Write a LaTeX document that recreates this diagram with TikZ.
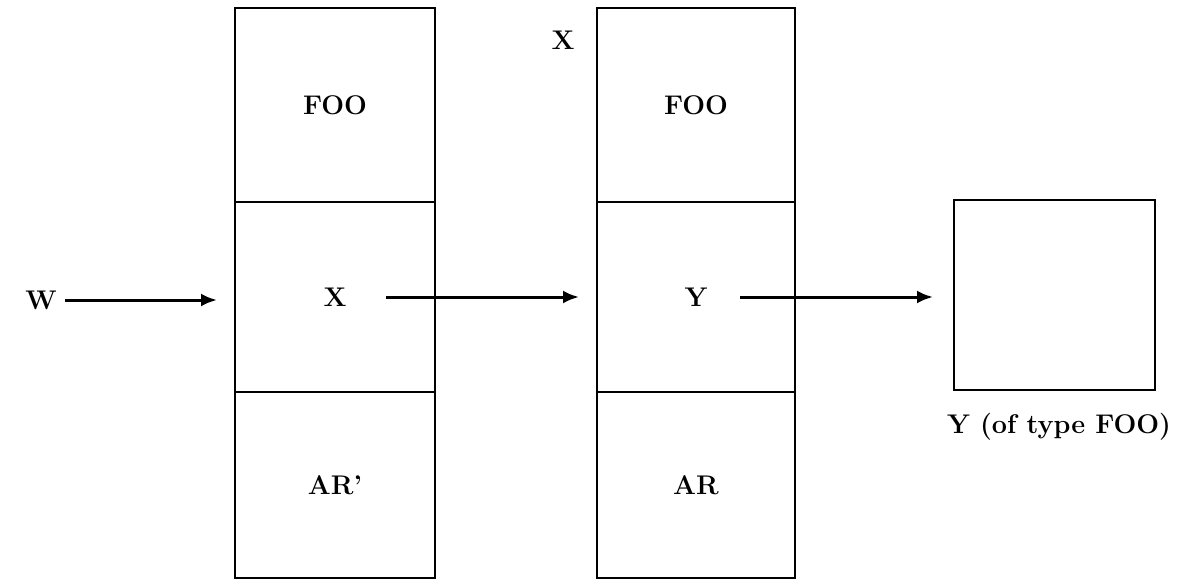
\documentclass[tikz,border=0pt]{standalone}
\usepackage{fontspec}
\setmainfont{Latin Modern Roman}
\usetikzlibrary{arrows.meta}
\begin{document}
\begin{tikzpicture}[x=1pt,y=-1pt,
  cell/.style={draw=black, line width=2pt, rectangle, inner sep=0pt, minimum width=#1},
  cell/.default=200pt,
  lbl/.style={inner sep=0pt},
  arr/.style={line width=3pt, -{Latex[length=16pt,width=13pt]}},
  every node/.append style={font=\fontsize{27}{32}\selectfont\bfseries}]
\useasboundingbox (0,0) rectangle (1177,581);
% left column
\node[cell, minimum height=194pt] (fooA) at (335,105) {FOO};
\node[cell, minimum height=190pt] (midA) at (335,297) {X};
\node[cell, minimum height=186pt] (arA) at (335,485) {AR'};
% right column
\node[cell=198pt, minimum height=194pt] (fooB) at (696,105) {FOO};
\node[cell=198pt, minimum height=190pt] (midB) at (696,297) {Y};
\node[cell=198pt, minimum height=186pt] (arB) at (696,485) {AR};
% result box
\node[cell=201pt, minimum height=190pt] (res) at (1054.5,295) {};
\node[lbl] (restxt) at (1059,427) {Y (of type FOO)};
% labels
\node[lbl] (w) at (41,300) {W};
\node[lbl] (xlbl) at (563,40) {X};
% arrows
\draw[arr] ([xshift=8pt]w.east) -- ([xshift=-17pt]midA.west |- w.east);
\draw[arr] ([xshift=51pt]midA.center) -- ([xshift=-17pt]midB.west);
\draw[arr] ([xshift=44pt]midB.center) -- ([xshift=-20pt]res.west |- midB.center);
\end{tikzpicture}
\end{document}
